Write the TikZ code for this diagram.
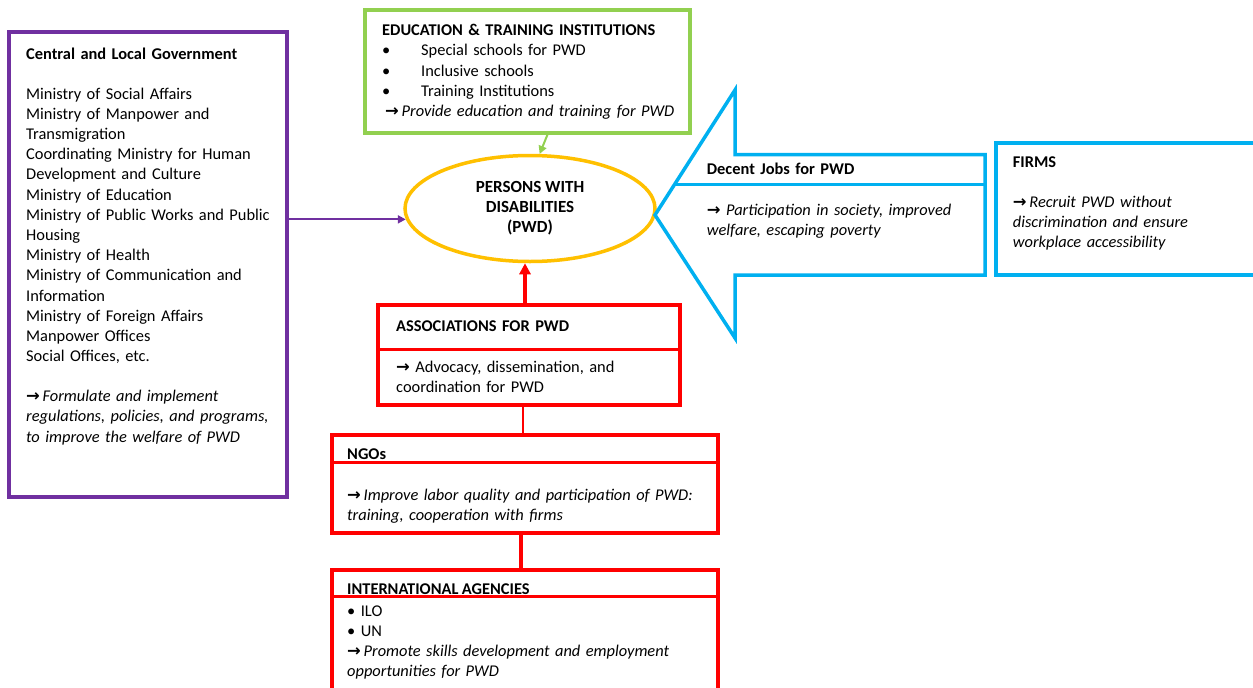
\documentclass[tikz,border=0pt]{standalone}
\usepackage{fontspec}
\setmainfont{Carlito}
\newfontfamily\dvfont{DejaVu Sans}
\usetikzlibrary{shapes.geometric,arrows.meta,calc}
\definecolor{cpurple}{HTML}{7030A0}
\definecolor{cgreen}{HTML}{92D050}
\definecolor{corange}{HTML}{FFC000}
\definecolor{cred}{HTML}{FF0000}
\definecolor{cblue}{HTML}{00B0F0}
\newcommand\rarr{{\dvfont\upshape\bfseries →}}
\begin{document}
\begin{tikzpicture}[x=1pt,y=-1pt,
  box/.style={draw, rectangle, line width=3.2pt, inner sep=0pt},
  txt/.style={inner sep=0pt, anchor=base west, align=left, text width=#1,
    font=\fontsize{16.4}{20.2}\selectfont},
  txt/.default=250pt,
]
\useasboundingbox (0,0) rectangle (1253,688);
\fill[white] (0,0) rectangle (1253,688);

% ---------- boxes ----------
\node[box, draw=cpurple, minimum width=278pt, minimum height=465pt] (gov) at (148,264.5) {};
\node[box, draw=cgreen, minimum width=325pt, minimum height=123pt] (edu) at (527.5,71.5) {};
\node[ellipse, draw=corange, line width=3.5pt, minimum width=250pt, minimum height=106pt,
      inner sep=0pt, align=center, font=\fontsize{17}{20.2}\selectfont\bfseries] (pwd) at (530,208.5)
      {PERSONS WITH\\DISABILITIES\\(PWD)};
\node[box, draw=cred, minimum width=302pt, minimum height=100pt] (assoc) at (529,355) {};
\node[box, draw=cred, minimum width=386pt, minimum height=98pt] (ngo) at (525,484) {};
\node[box, draw=cred, minimum width=386pt, minimum height=122pt] (intl) at (525,631) {};
\node[box, draw=cblue, minimum width=260pt, minimum height=132pt] (firms) at (1126,209) {};

% dividers
\draw[cred, line width=2.8pt] ([yshift=-46pt]assoc.north west) -- ([yshift=-46pt]assoc.north east);
\draw[cred, line width=2.8pt] ([yshift=-29pt]ngo.north west) -- ([yshift=-29pt]ngo.north east);
\draw[cred, line width=2.8pt] ([yshift=-28pt]intl.north west) -- ([yshift=-28pt]intl.north east);

% ---------- big blue arrow ----------
\draw[cblue, line width=3.5pt, line join=miter]
  (655,215) -- (735,90) -- (735,154.5) -- (985,154.5) -- (985,275) -- (735,275) -- (735,338) -- cycle;
\draw[cblue, line width=3pt] (674.8,184) -- (985,184);

% ---------- connectors ----------
\draw[cpurple, line width=2pt, -{Triangle[length=8pt,width=8pt]}] (gov.east |- pwd.185) -- (pwd.185);
\draw[cgreen, line width=2pt, -{Triangle[length=8pt,width=8pt]}] ([xshift=20pt]edu.south) -- (pwd.80);
\draw[cred, line width=3.5pt, -{Triangle[length=11pt,width=11pt]}] ([xshift=-4pt]assoc.north) -- ([xshift=-4pt]assoc.north |- pwd.south);
\draw[cred, line width=1.6pt] ([xshift=-2pt]ngo.north) -- ([xshift=-2pt]ngo.north |- assoc.south);
\draw[cred, line width=3.5pt] ([xshift=-4pt]ngo.south) -- ([xshift=-4pt]intl.north);

% ---------- texts ----------
\node[txt] (govtitle) at (26,59) {\textbf{Central and Local Government}};
\node[txt=256pt] (govlist) at (26,99) {Ministry of Social Affairs\\
Ministry of Manpower and\\
Transmigration\\
Coordinating Ministry for Human\\
Development and Culture\\
Ministry of Education\\
Ministry of Public Works and Public\\
Housing\\
Ministry of Health\\
Ministry of Communication and\\
Information\\
Ministry of Foreign Affairs\\
Manpower Offices\\
Social Offices, etc.};
\node[txt=256pt, font=\fontsize{16.4}{20.4}\selectfont\itshape] (govrole) at (26,401.5) {\rarr\,Formulate and implement\\
regulations, policies, and programs,\\
to improve the welfare of PWD};

\node[txt=305pt, font=\fontsize{16.4}{20.3}\selectfont] (edutext) at (382,35.5) {\textbf{EDUCATION \& TRAINING INSTITUTIONS}\\
\makebox[39pt][l]{\textbullet}Special schools for PWD\\
\makebox[39pt][l]{\textbullet}Inclusive schools\\
\makebox[39pt][l]{\textbullet}Training Institutions\\
\hspace*{3pt}\rarr\,\textit{Provide education and training for PWD}};

\node[txt=270pt] (assoctitle) at (396,331) {\textbf{ASSOCIATIONS FOR PWD}};
\node[txt=270pt] (assoctext) at (396,372) {\rarr\ Advocacy, dissemination, and\\coordination for PWD};

\node[txt=360pt] (ngotitle) at (347,459) {\textbf{NGOs}};
\node[txt=360pt, font=\fontsize{16.4}{20.2}\selectfont\itshape] (ngotext) at (347,500) {\rarr\,Improve labor quality and participation of PWD:\\training, cooperation with firms};

\node[txt=360pt] (intltitle) at (347,594) {\textbf{INTERNATIONAL\hspace{-2pt} AGENCIES}};
\node[txt=360pt, font=\fontsize{16.4}{20.3}\selectfont] (intltext) at (347,616) {\textbullet\ ILO\\
\textbullet\ UN\\
\rarr\,\textit{Promote skills development and employment}\\
\textit{opportunities for PWD}};

\node[txt=270pt] (jobstitle) at (706.7,174) {\textbf{Decent Jobs for PWD}};
\node[txt=270pt, font=\fontsize{16.4}{20.2}\selectfont\itshape] (jobstext) at (706.7,215) {\rarr\ Participation in society, improved\\welfare, escaping poverty};

\node[txt=230pt] (firmstitle) at (1012.7,167.3) {\textbf{FIRMS}};
\node[txt=230pt, font=\fontsize{16.4}{20}\selectfont\itshape] (firmstext) at (1012.7,207.3) {\rarr\,Recruit PWD without\\discrimination and ensure\\workplace accessibility};
\end{tikzpicture}
\end{document}
